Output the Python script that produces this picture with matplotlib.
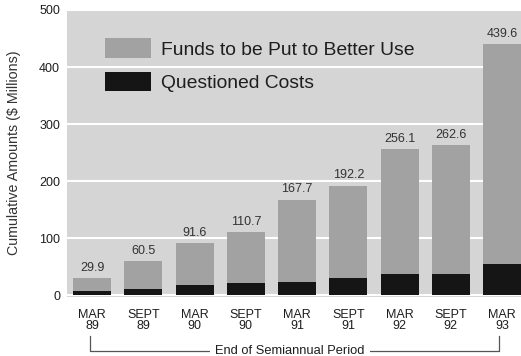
import matplotlib
matplotlib.use("Agg")
import matplotlib.pyplot as plt
from matplotlib.patches import Patch

plt.rcParams['font.family'] = ['Liberation Sans', 'DejaVu Sans']

periods = ["MAR\n89", "SEPT\n89", "MAR\n90", "SEPT\n90", "MAR\n91",
           "SEPT\n91", "MAR\n92", "SEPT\n92", "MAR\n93"]
totals = [29.9, 60.5, 91.6, 110.7, 167.7, 192.2, 256.1, 262.6, 439.6]
questioned = [7, 11, 18, 21, 23, 30, 37, 37, 55]
funds = [t - q for t, q in zip(totals, questioned)]

bg = "#d5d5d5"
gray = "#a2a2a2"
black = "#151515"
txt = "#1e1e1e"

fig = plt.figure(figsize=(5.21, 3.56), dpi=100)
ax = fig.add_axes([67/521, 1 - 297/356, 454/521, 287/356])
ax.set_facecolor(bg)

x = list(range(len(periods)))
ax.bar(x, questioned, width=0.74, color=black, zorder=3)
ax.bar(x, funds, width=0.74, bottom=questioned, color=gray, zorder=3)

for xi, t in zip(x, totals):
    ax.annotate(f"{t:.1f}", (xi, t), xytext=(0, 3), textcoords="offset points",
                ha="center", va="bottom", fontsize=9, color="#333333")

ax.set_xlim(-0.49, 8.37)
ax.set_ylim(-3, 500)
ax.set_yticks([0, 100, 200, 300, 400, 500])
ax.set_xticks(x)
ax.set_xticklabels(periods, fontsize=9, color=txt, linespacing=0.85)
ax.tick_params(axis="x", length=0, pad=9)
ax.tick_params(axis="y", length=0, pad=5, labelsize=9, labelcolor=txt)
for s in ax.spines.values():
    s.set_visible(False)
ax.yaxis.grid(True, color="white", linewidth=1.5, zorder=1)
ax.set_axisbelow(True)

handles = [Patch(facecolor=gray, label="Funds to be Put to Better Use"),
           Patch(facecolor=black, label="Questioned Costs")]
ax.legend(handles=handles, loc="upper left", bbox_to_anchor=(0.0837, 0.902),
          frameon=False, fontsize=13.9, handlelength=2.4, handleheight=1.2,
          labelspacing=0.68, handletextpad=0.5, borderpad=0, borderaxespad=0,
          labelcolor=txt)

fig.text(14/521, 1 - 153/356, "Cumulative Amounts ($ Millions)", rotation=90,
         ha="center", va="center", fontsize=10.3, color="#333333")

# bracket under the period labels
tr = ax.get_xaxis_transform()
y_top, y_bot = -0.136, -0.188
ax.plot([-0.04, -0.04, 7.94, 7.94], [y_top, y_bot, y_bot, y_top], transform=tr,
        color="#555555", linewidth=0.9, clip_on=False)
ax.text(3.86, y_bot, "End of Semiannual Period", transform=tr, ha="center",
        va="center", fontsize=9.3, color=txt,
        bbox=dict(facecolor="white", edgecolor="none", pad=4))

fig.savefig("out.png", dpi=100)
